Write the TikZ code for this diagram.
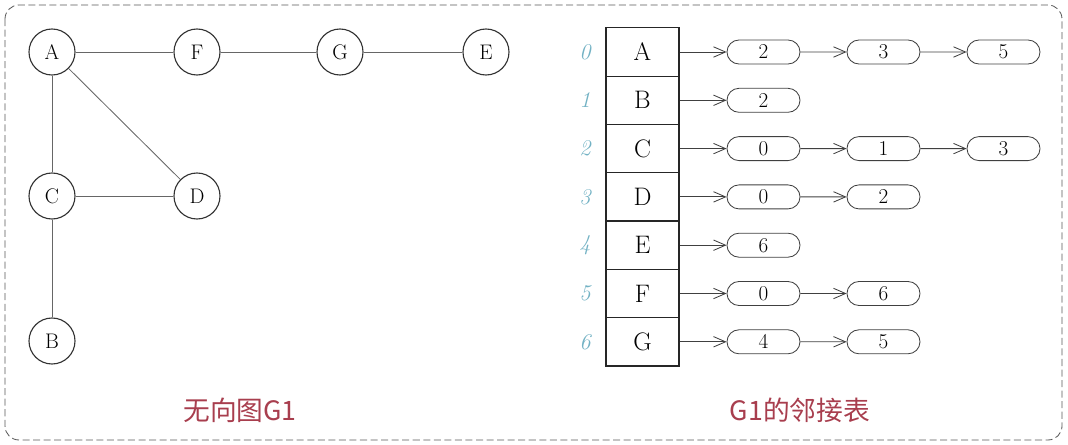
\documentclass[tikz,border=0pt]{standalone}
\usepackage{tikz}
\usetikzlibrary{shapes.misc}
\usetikzlibrary{arrows.meta}
\usepackage{xcolor}
\usepackage{fontspec}
\newfontfamily\cjk{Noto Sans CJK SC}
\definecolor{idxblue}{RGB}{115,178,196}
\definecolor{capred}{RGB}{168,62,78}

\begin{document}
\begin{tikzpicture}[x=0.025cm, y=-0.025cm]
        % ================= 样式定义 =================
        \tikzset{
            % 图的顶点:白底黑边圆圈
            gnode/.style={circle, draw=black!80, line width=0.8pt, fill=white, minimum size=1.15cm, inner sep=0pt, font=\fontsize{15}{16}\selectfont},
            % 图的边:灰色细线
            glink/.style={line width=0.6pt, black!60},
            % 顶点表的格子
            cell/.style={rectangle, draw=black!85, line width=0.8pt, minimum width=1.825cm, minimum height=1.207cm, inner sep=0pt, font=\fontsize{18}{19}\selectfont},
            % 顶点下标 (斜体浅蓝)
            idx/.style={text=idxblue, font=\itshape\fontsize{16}{17}\selectfont},
            % 边表结点:圆头长条
            lnode/.style={rounded rectangle, draw=black!75, line width=0.6pt, minimum width=1.825cm, minimum height=0.6cm, inner sep=0pt, font=\fontsize{15}{16}\selectfont},
            % 指针箭头
            plink/.style={line width=0.6pt, black!75, -{Straight Barb[length=0.3cm, width=0.26cm]}},
            % 图题
            caption/.style={text=capred, font=\cjk\fontsize{19}{20}\selectfont}
        }

        % 画布大小与虚线外框
        \useasboundingbox (0,0) rectangle (1068,445);
        \draw[black!65, line width=0.6pt, dash pattern=on 5pt off 2.5pt, rounded corners=0.35cm] (5,5) rectangle (1062,440);

        % ================= 左图:无向图 G1 =================
        \node[gnode] (A) at (52,52) {A};
        \node[gnode] (F) at (197,52) {F};
        \node[gnode] (G) at (340,52) {G};
        \node[gnode] (E) at (486,52) {E};
        \node[gnode] (C) at (52,196) {C};
        \node[gnode] (D) at (197,196) {D};
        \node[gnode] (B) at (52,341) {B};

        \draw[glink] (A) -- (F);
        \draw[glink] (F) -- (G);
        \draw[glink] (G) -- (E);
        \draw[glink] (A) -- (C);
        \draw[glink] (A) -- (D);
        \draw[glink] (C) -- (D);
        \draw[glink] (C) -- (B);

        \node[caption] (cap1) at (240,410) {无向图G1};

        % ================= 右图:G1 的邻接表 =================
        \foreach \name [count=\i from 0] in {A,B,C,D,E,F,G} {
            \node[cell] (r\i) at (642.5, 52+48.3*\i) {\name};
            \node[idx] (n\i) at (585, 52+48.3*\i) {\i};
        }

        % 各行的边表
        \foreach \row/\list in {0/{2,3,5}, 1/{2}, 2/{0,1,3}, 3/{0,2}, 4/{6}, 5/{0,6}, 6/{4,5}} {
            \foreach \v [count=\k] in \list {
                \node[lnode] (l\row-\k) at (643.5+120*\k, 52+48.3*\row) {\v};
            }
        }

        % 指针:格子 -> 第一个结点 -> 下一个结点
        \foreach \row in {0,...,6} {
            \draw[plink] (r\row) -- (l\row-1);
        }
        \draw[plink] (l0-1) -- (l0-2);
        \draw[plink] (l0-2) -- (l0-3);
        \draw[plink] (l2-1) -- (l2-2);
        \draw[plink] (l2-2) -- (l2-3);
        \draw[plink] (l3-1) -- (l3-2);
        \draw[plink] (l5-1) -- (l5-2);
        \draw[plink] (l6-1) -- (l6-2);

        \node[caption] (cap2) at (800,410) {G1的邻接表};

    \end{tikzpicture}
\end{document}
